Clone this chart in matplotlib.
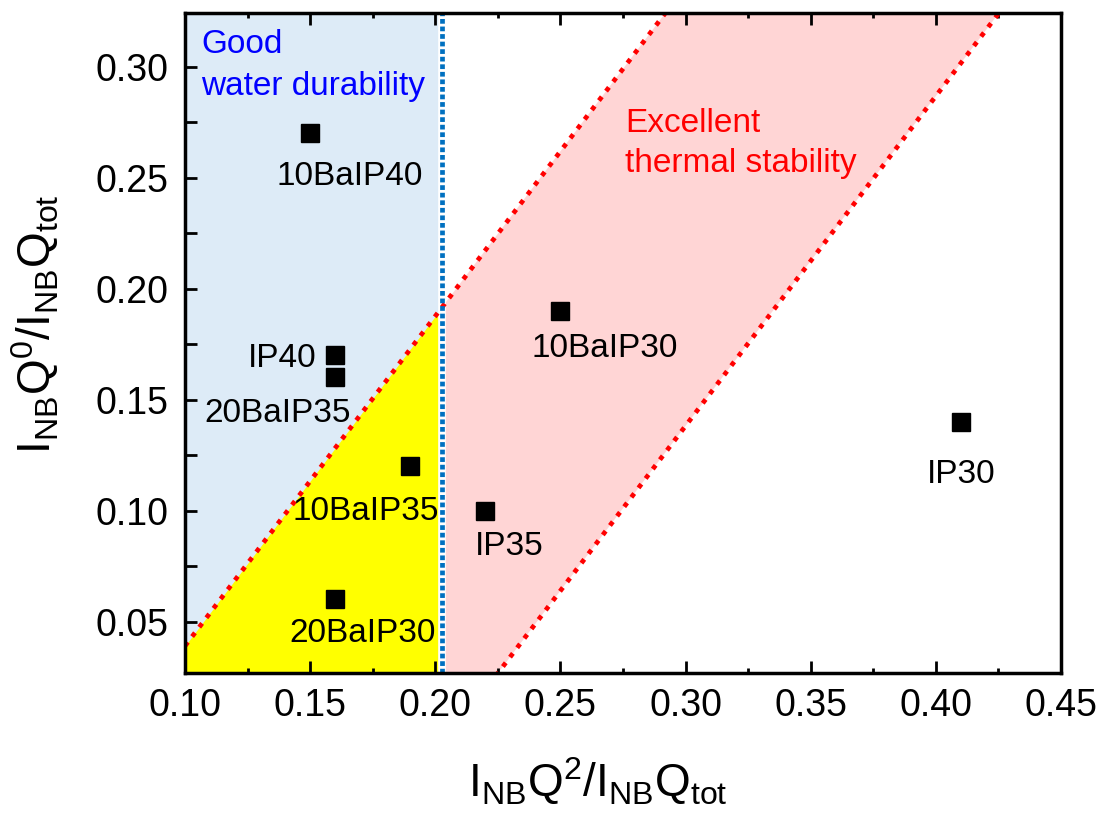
import matplotlib

matplotlib.use("Agg")
import matplotlib.pyplot as plt
import numpy as np
from matplotlib.ticker import FormatStrFormatter, MultipleLocator

plt.rcParams["font.family"] = ["Liberation Sans", "DejaVu Sans"]
plt.rcParams["mathtext.fontset"] = "custom"
plt.rcParams["mathtext.rm"] = "Liberation Sans"
plt.rcParams["mathtext.it"] = "Liberation Sans:italic"
plt.rcParams["mathtext.bf"] = "Liberation Sans:bold"

# glass samples: Q2 and Q0 fractions of the NB region
samples = ["10BaIP40", "IP40", "20BaIP35", "10BaIP35", "20BaIP30", "IP35", "10BaIP30", "IP30"]
q2_ratio = [0.15, 0.16, 0.16, 0.19, 0.16, 0.22, 0.25, 0.41]
q0_ratio = [0.27, 0.17, 0.16, 0.12, 0.06, 0.10, 0.19, 0.14]

# label placement (offset in points, alignment)
label_dx = [28.7, -13.3, -41.5, -31.7, 19.7, 17.4, 31.7, 0.0]
label_dy = [-37.4, -8.2, -32.0, -38.9, -30.6, -31.9, -33.1, -43.9]
label_ha = ["center", "right", "center", "center", "center", "center", "center", "center"]

# region boundaries
durability_limit = 0.2026
upper_x = [0.10, 0.45]
upper_y = [0.039, 0.559]
lower_x = [0.10, 0.45]
lower_y = [-0.159, 0.361]

x_lim = (0.10, 0.45)
y_lim = (0.0268, 0.3243)

fig = plt.figure(figsize=(11.07, 8.16), dpi=100)
ax = fig.add_axes([0.1671, 0.1752, 0.7913, 0.8092])

# shaded regions
ax.axvspan(x_lim[0], durability_limit, color="#DDEBF7", lw=0, zorder=0)
xs = np.array([x_lim[0], durability_limit])
ax.fill_between(xs, 0, np.interp(xs, upper_x, upper_y), color="#FFFF00", lw=0, zorder=1)
xs = np.array([durability_limit, x_lim[1]])
ax.fill_between(
    xs,
    np.interp(xs, lower_x, lower_y),
    np.interp(xs, upper_x, upper_y),
    color="#FFD5D5",
    lw=0,
    zorder=1,
)

# boundary lines
ax.axvline(durability_limit, color="white", lw=5.5, zorder=2)
ax.plot(upper_x, upper_y, color="#FF0000", lw=3.4, ls=(0, (1, 1.5)), zorder=3)
ax.plot(lower_x, lower_y, color="#FF0000", lw=3.4, ls=(0, (1, 1.5)), zorder=3)
ax.axvline(durability_limit, color="#0070C0", lw=3.4, ls=(0, (1, 0.6)), zorder=4)

ax.plot(q2_ratio, q0_ratio, "s", color="black", ms=13.5, zorder=5, clip_on=False)

for name, x, y, dx, dy, ha in zip(samples, q2_ratio, q0_ratio, label_dx, label_dy, label_ha):
    ax.annotate(
        name,
        (x, y),
        xytext=(dx, dy),
        textcoords="offset points",
        ha=ha,
        va="baseline",
        fontsize=24,
        zorder=6,
    )

ax.text(0.1064, 0.3062, "Good", color="#0000FF", fontsize=24, va="baseline", zorder=6)
ax.text(0.1064, 0.2873, "water durability", color="#0000FF", fontsize=24, va="baseline", zorder=6)
ax.text(0.2758, 0.2706, "Excellent", color="#FF0000", fontsize=24, va="baseline", zorder=6)
ax.text(0.2758, 0.2526, "thermal stability", color="#FF0000", fontsize=24, va="baseline", zorder=6)

ax.set_xlim(*x_lim)
ax.set_ylim(*y_lim)
ax.xaxis.set_major_locator(MultipleLocator(0.05))
ax.xaxis.set_minor_locator(MultipleLocator(0.025))
ax.yaxis.set_major_locator(MultipleLocator(0.05))
ax.yaxis.set_minor_locator(MultipleLocator(0.025))
ax.xaxis.set_major_formatter(FormatStrFormatter("%.2f"))
ax.yaxis.set_major_formatter(FormatStrFormatter("%.2f"))

for spine in ax.spines.values():
    spine.set_linewidth(2.5)
    spine.set_zorder(7)

ax.tick_params(axis="both", which="both", direction="in", width=2, labelsize=27)
ax.tick_params(axis="x", which="major", length=8.6, pad=11, top=True)
ax.tick_params(axis="x", which="minor", length=3.6, top=True)
ax.tick_params(axis="y", which="major", length=8.6, pad=12)
ax.tick_params(axis="y", which="minor", length=8.6)

ax.set_xlabel(r"$\mathregular{I_{NB}Q^{2}/I_{NB}Q_{tot}}$", fontsize=33)
ax.set_ylabel(r"$\mathregular{I_{NB}Q^{0}/I_{NB}Q_{tot}}$", fontsize=33)
ax.xaxis.set_label_coords(0.471, -0.124)
ax.yaxis.set_label_coords(-0.143, 0.528)

fig.savefig("out.png", dpi=100)
